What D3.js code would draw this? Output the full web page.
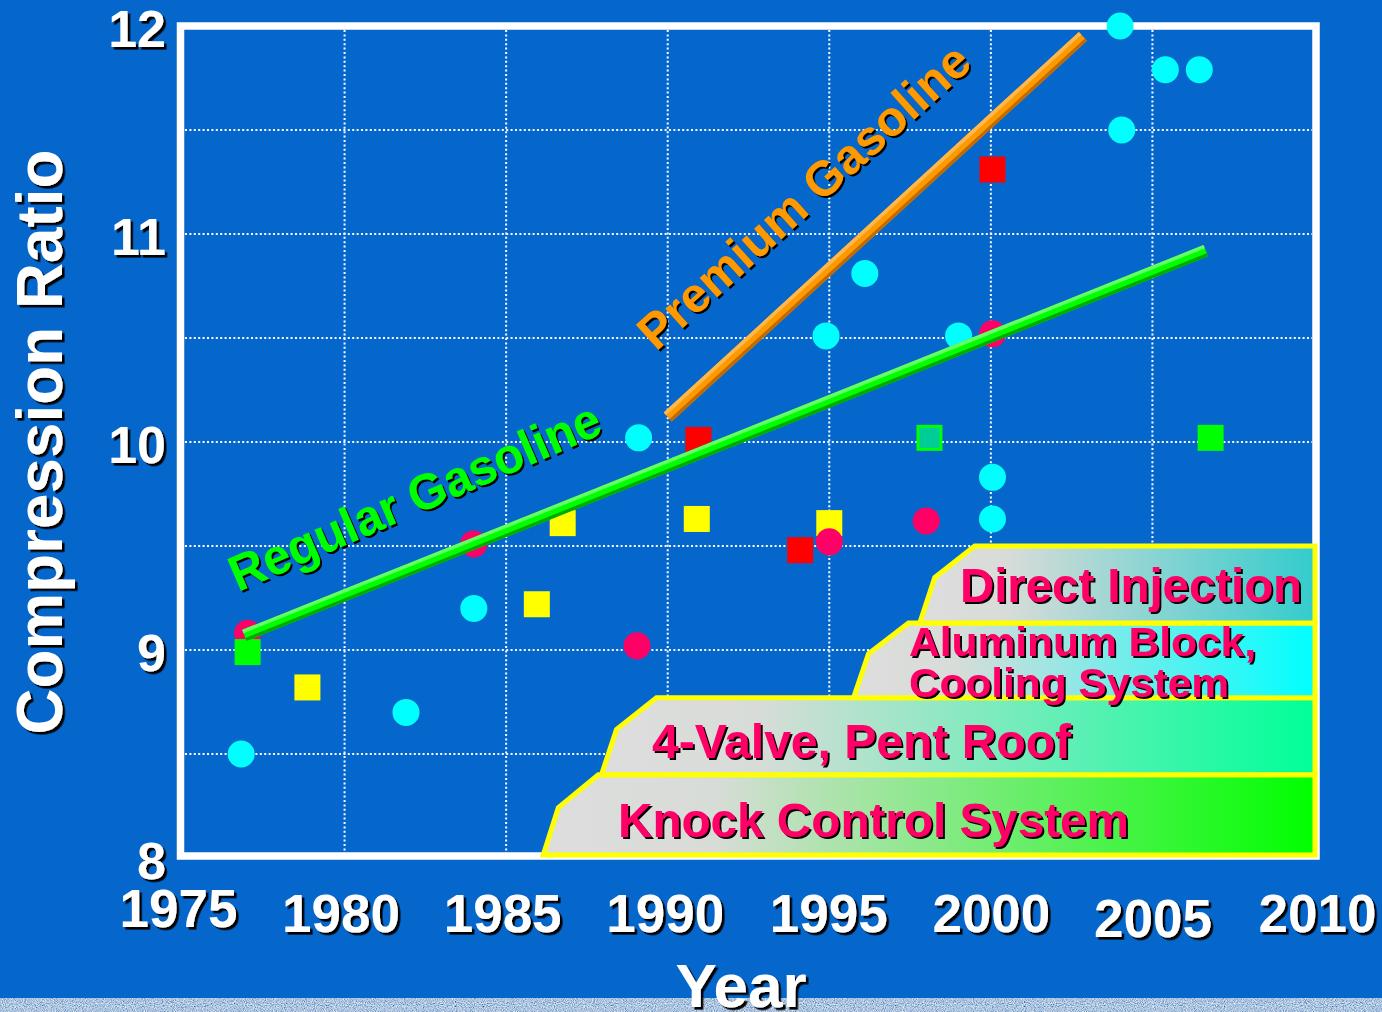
<!DOCTYPE html>
<html>
<head>
<meta charset="utf-8">
<script src="https://cdn.jsdelivr.net/npm/d3@7"></script>
<style>
  html, body { margin: 0; padding: 0; background: #0567cc; overflow: hidden; }
  svg { display: block; }
</style>
</head>
<body>
<svg id="chart" width="1382" height="1012"></svg>
<script>
// ---- data ---------------------------------------------------------------
const yearTicks  = [1975, 1980, 1985, 1990, 1995, 2000, 2005, 2010];
const ratioTicks = [8, 9, 10, 11, 12];
const yearGrid   = [1980, 1985, 1990, 1995, 2000, 2005];
const ratioGrid  = [8.5, 9, 9.5, 10, 10.5, 11, 11.5];

// engines plotted as [model year, compression ratio]
const cyanEngines = [
  [1976.8, 8.5], [1981.9, 8.7], [1984.0, 9.2], [1989.1, 10.02],
  [1994.9, 10.51], [1996.1, 10.81], [1999.0, 10.51], [2000.05, 9.83],
  [2000.05, 9.63], [2004.0, 12.0], [2004.05, 11.5], [2005.4, 11.79],
  [2006.45, 11.79]
];
const pinkEngines = [
  [1977.0, 9.08], [1984.0, 9.51], [1989.05, 9.02], [1995.0, 9.52],
  [1998.0, 9.62], [2000.05, 10.52]
];
const yellowEngines = [
  [1978.85, 8.82], [1985.95, 9.22], [1986.75, 9.61], [1990.9, 9.63], [1995.0, 9.61]
];
const redEngines = [
  [1990.95, 10.01], [1994.1, 9.48], [2000.05, 11.31]
];
const greenEngines = [
  [1977.0, 8.99], [2006.8, 10.02]
];
const tealEngines = [
  [1998.1, 10.02]
];

// trend lines
const regularTrend = [[1976.9, 9.07], [2006.65, 10.92]];
const premiumTrend = [[1990.0, 10.12], [2002.85, 11.95]];

// technology steps
const techNames     = ["Knock Control System", "4-Valve, Pent Roof", "Aluminum Block,|Cooling System", "Direct Injection"];
const techStartYear = [1986.15, 1987.95, 1995.75, 1997.8];
const techBands     = [8.015, 8.4, 8.77, 9.13, 9.5];

// ---- drawing ------------------------------------------------------------
const W = 1382, H = 1012;
const svg = d3.select("#chart")
  .attr("font-family", "'Liberation Sans', Arial, Helvetica, sans-serif")
  .attr("font-weight", "bold");

const x = d3.scaleLinear().domain([1975, 2010]).range([183, 1314]);
const y = d3.scaleLinear().domain([8, 12]).range([858, 26]);

const defs = svg.append("defs");

function dropShadow(id, d) {
  const f = defs.append("filter").attr("id", id)
    .attr("x", "-10%").attr("y", "-10%").attr("width", "125%").attr("height", "125%");
  f.append("feDropShadow").attr("dx", d).attr("dy", d).attr("stdDeviation", 0)
    .attr("flood-color", "#000").attr("flood-opacity", 1);
}
dropShadow("shadow3", 2.6);
dropShadow("shadow2", 2);

// grainy strip texture
const grain = defs.append("filter").attr("id", "grain")
  .attr("filterUnits", "userSpaceOnUse")
  .attr("x", 0).attr("y", 998).attr("width", W).attr("height", 14);
grain.append("feTurbulence").attr("type", "fractalNoise")
  .attr("baseFrequency", 0.9).attr("numOctaves", 2).attr("seed", 7).attr("result", "n");
grain.append("feColorMatrix").attr("in", "n").attr("type", "matrix")
  .attr("values", "1.2 0 0 0 -0.18  1.1 0 0 0 0.0  0.8 0 0 0 0.33  0 0 0 0 1");

// gradients for the technology steps
const techColors = ["#00ff00", "#00ff99", "#00ffff", "#33cccc"];
techColors.forEach((c, i) => {
  const g = defs.append("linearGradient").attr("id", "tech" + i)
    .attr("x1", 0).attr("y1", 0).attr("x2", 1).attr("y2", 0);
  g.append("stop").attr("offset", 0).attr("stop-color", "#dddddd");
  g.append("stop").attr("offset", 0.22).attr("stop-color", "#d8dcd8");
  g.append("stop").attr("offset", 1).attr("stop-color", c);
});

// background
svg.append("rect").attr("width", W).attr("height", H).attr("fill", "#0567cc");

// dotted grid
const grid = svg.append("g")
  .attr("stroke", "#ffffff").attr("stroke-width", 2).attr("stroke-dasharray", "2,2.4");
grid.selectAll("line.v").data(yearGrid).join("line").attr("class", "v")
  .attr("x1", d => x(d)).attr("x2", d => x(d))
  .attr("y1", y(12) + 4).attr("y2", y(8) - 4);
grid.selectAll("line.h").data(ratioGrid).join("line").attr("class", "h")
  .attr("x1", x(1975) + 2).attr("x2", x(2010) - 2)
  .attr("y1", d => y(d)).attr("y2", d => y(d));

// plot frame
svg.append("rect")
  .attr("x", x(1975) - 2.5).attr("y", y(12))
  .attr("width", x(2010) + 2 - (x(1975) - 2.5))
  .attr("height", y(8) - 2 - y(12))
  .attr("fill", "none").attr("stroke", "#ffffff").attr("stroke-width", 7.5);

// markers
const marks = svg.append("g");
const R = 13.5, S = 26;
function circles(data, color) {
  marks.append("g").selectAll("circle").data(data).join("circle")
    .attr("cx", d => x(d[0])).attr("cy", d => y(d[1])).attr("r", R)
    .attr("fill", color);
}
function squares(data, color, stroke) {
  const g = marks.append("g").selectAll("rect").data(data).join("rect")
    .attr("x", d => x(d[0]) - S / 2).attr("y", d => y(d[1]) - S / 2)
    .attr("width", S).attr("height", S).attr("fill", color);
  if (stroke) g.attr("stroke", stroke).attr("stroke-width", 3)
    .attr("x", d => x(d[0]) - S / 2 + 1.5).attr("y", d => y(d[1]) - S / 2 + 1.5)
    .attr("width", S - 3).attr("height", S - 3);
}
circles(cyanEngines, "#00ffff");
squares(yellowEngines, "#ffff00");
circles(pinkEngines, "#ff0066");
squares(redEngines, "#ff0000");
squares(greenEngines, "#00ff00");
squares(tealEngines, "#00cc99", "#00ff00");

// bevelled trend bars
function bar(pts, base, light, dark) {
  const p0 = [x(pts[0][0]), y(pts[0][1])];
  const p1 = [x(pts[1][0]), y(pts[1][1])];
  const dx = p1[0] - p0[0], dy = p1[1] - p0[1];
  const L = Math.hypot(dx, dy);
  const nx = -dy / L, ny = dx / L;       // points down-right of the bar
  const g = svg.append("g");
  const seg = (off, w, c) => g.append("line")
    .attr("x1", p0[0] + nx * off).attr("y1", p0[1] + ny * off)
    .attr("x2", p1[0] + nx * off).attr("y2", p1[1] + ny * off)
    .attr("stroke", c).attr("stroke-width", w).attr("stroke-linecap", "butt");
  seg(0, 12, base);
  seg(-4.2, 3.6, light);
  seg(4.4, 3.2, dark);
}
bar(regularTrend, "#00ff00", "#66ff66", "#00a800");
bar(premiumTrend, "#ff9900", "#ffb84d", "#c06a00");

// trend labels
function slantLabel(text, px, py, angle, len, size, color) {
  svg.append("g").attr("filter", "url(#shadow2)")
    .append("text")
    .attr("transform", `translate(${px},${py}) rotate(${angle})`)
    .attr("font-size", size).attr("fill", color)
    .attr("textLength", len).attr("lengthAdjust", "spacingAndGlyphs")
    .text(text);
}
slantLabel("Regular Gasoline", 238, 592, -23.5, 400, 50, "#00ff00");
slantLabel("Premium Gasoline", 656, 352, -42, 428, 49, "#ff9900");

// technology steps
const techG = svg.append("g");
const rightX = x(2010) + 1;
techNames.forEach((name, i) => {
  const x0 = x(techStartYear[i]);
  const yb = y(techBands[i]);
  const yt = y(techBands[i + 1]);
  const h = yb - yt;
  const pts = [[x0, yb], [x0 + 15, yb - 0.59 * h], [x0 + 55, yt], [rightX, yt], [rightX, yb]];
  techG.append("path")
    .attr("d", d3.line()(pts) + "Z")
    .attr("fill", `url(#tech${i})`)
    .attr("stroke", "#ffff00").attr("stroke-width", 5).attr("stroke-linejoin", "miter");
});

// technology captions
const techLabelLayout = [
  { lines: [{ x: 618, y: 837, len: 511 }], size: 48 },
  { lines: [{ x: 652, y: 758, len: 419 }], size: 48 },
  { lines: [{ x: 909, y: 656, len: 347 }, { x: 909, y: 697, len: 320 }], size: 41 },
  { lines: [{ x: 960, y: 602, len: 342 }], size: 48 }
];
const capG = svg.append("g").attr("filter", "url(#shadow2)");
techNames.forEach((name, i) => {
  const parts = name.split("|");
  const lay = techLabelLayout[i];
  parts.forEach((t, j) => {
    capG.append("text")
      .attr("x", lay.lines[j].x).attr("y", lay.lines[j].y)
      .attr("font-size", lay.size).attr("fill", "#ff0066")
      .attr("textLength", lay.lines[j].len).attr("lengthAdjust", "spacingAndGlyphs")
      .text(t);
  });
});

// axes
const tickNudgeX = [-5, -4, -4, -3, -1, 0, 0, 3];
const tickNudgeY = [-5, 0, 0, 0, 0, 0, 5, 0];
const gx = svg.append("g").attr("transform", "translate(0,894)")
  .call(d3.axisBottom(x).tickValues(yearTicks).tickFormat(d3.format("d")).tickSize(0).tickPadding(0));
gx.select(".domain").remove();
gx.attr("font-family", null).attr("font-size", null).attr("filter", "url(#shadow3)");
gx.selectAll("text")
  .attr("font-size", 53).attr("fill", "#ffffff").attr("dy", "0.71em")
  .attr("dx", (d, i) => tickNudgeX[i]).attr("y", (d, i) => tickNudgeY[i]);

const gy = svg.append("g").attr("transform", "translate(166,0)")
  .call(d3.axisLeft(y).tickValues(ratioTicks).tickFormat(d3.format("d")).tickSize(0).tickPadding(0));
gy.select(".domain").remove();
gy.attr("font-family", null).attr("font-size", null).attr("filter", "url(#shadow3)");
gy.selectAll("text").attr("font-size", 52).attr("fill", "#ffffff").attr("dy", "0.39em");

// axis titles
svg.append("g").attr("filter", "url(#shadow3)")
  .append("text")
  .attr("transform", "translate(62,442) rotate(-90)")
  .attr("text-anchor", "middle").attr("font-size", 64).attr("fill", "#ffffff")
  .attr("textLength", 585).attr("lengthAdjust", "spacingAndGlyphs")
  .text("Compression Ratio");

// grainy bottom strip
svg.append("rect").attr("x", 0).attr("y", 998).attr("width", W).attr("height", 14)
  .attr("filter", "url(#grain)");

svg.append("g").attr("filter", "url(#shadow3)")
  .append("text")
  .attr("x", 741).attr("y", 1007).attr("text-anchor", "middle")
  .attr("font-size", 62).attr("fill", "#ffffff")
  .text("Year");
</script>
</body>
</html>
